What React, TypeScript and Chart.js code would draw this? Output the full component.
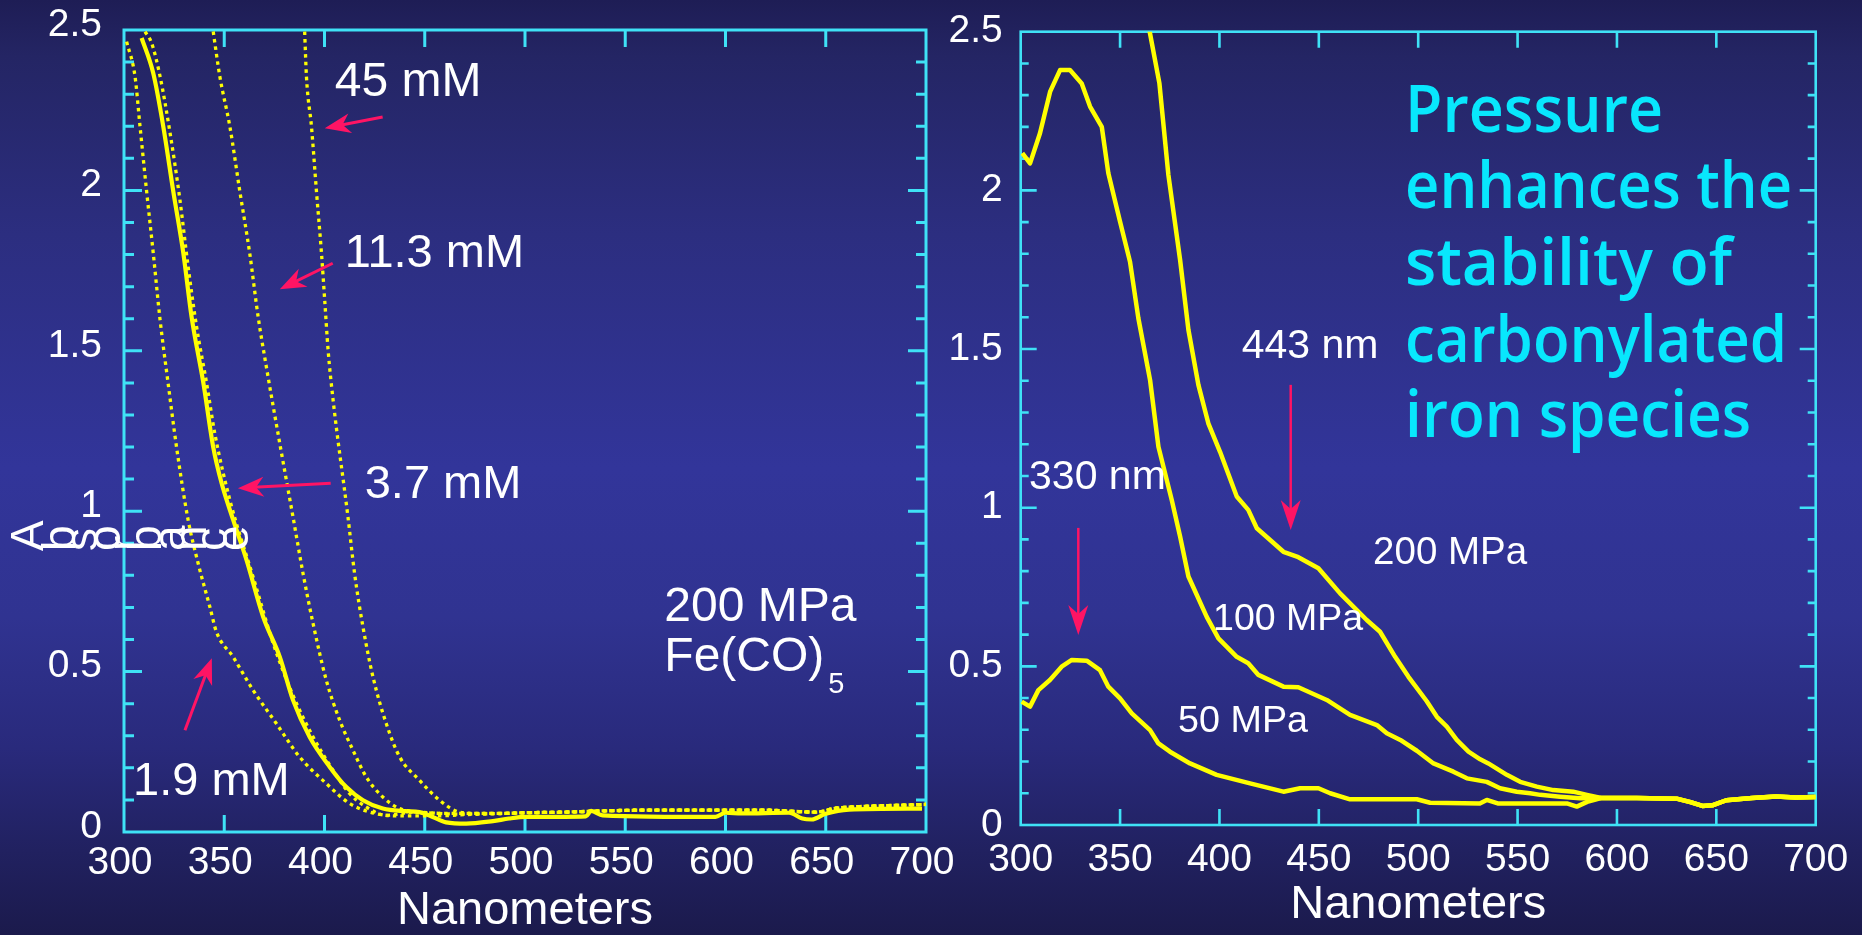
import React, { useEffect, useRef } from 'react';
import Chart from 'chart.js/auto';

const FONT = '"Liberation Sans", Arial, Helvetica, sans-serif';
const CYAN = '#3fe2f6';
const YELLOW = '#ffff00';
const PINK = '#ff1464';
const TEXT_CYAN = '#08e7fd';

// ---------------- axes ----------------
const xTicks = [300, 350, 400, 450, 500, 550, 600, 650, 700];
const yTicks = [0, 0.5, 1, 1.5, 2, 2.5];
const yMinorTicks = [0.1, 0.2, 0.3, 0.4, 0.6, 0.7, 0.8, 0.9, 1.1, 1.2, 1.3, 1.4, 1.6, 1.7, 1.8, 1.9, 2.1, 2.2, 2.3, 2.4];
const xTitle = 'Nanometers';
const yTitle = 'Absorbance';

// ---------------- left panel: 200 MPa, Fe(CO)5, [nm, absorbance] ----------------
const solidTrace = [
  [308.8, 2.475], [314.6, 2.365], [319.6, 2.199], [324.6, 1.996], [329.6, 1.804], [333.7, 1.606],
  [339.6, 1.399], [344.5, 1.2], [348.7, 1.087], [354.5, 0.972], [361.1, 0.848], [369.4, 0.671],
  [377.7, 0.546], [384.3, 0.411], [392.6, 0.296], [402.6, 0.203], [410.9, 0.14], [419.2, 0.099],
  [429.1, 0.073], [440, 0.065], [447.4, 0.062], [454, 0.047], [460.7, 0.03], [470.7, 0.026],
  [484, 0.034], [492, 0.042], [500.5, 0.047], [530.4, 0.049], [533, 0.066], [538.7, 0.052],
  [595, 0.047], [600, 0.06], [608, 0.058], [631.7, 0.06], [638.3, 0.042], [643, 0.039],
  [650, 0.057], [661.6, 0.07], [698, 0.073],
];
const conc1_9 = [
  [301.3, 2.464], [305.5, 2.355], [308, 2.199], [311.3, 1.996], [314.6, 1.804], [318, 1.596],
  [322, 1.399], [326.2, 1.2], [332, 0.972], [337, 0.837], [342.8, 0.702], [346.1, 0.624],
  [354.4, 0.546], [364.4, 0.442], [376, 0.338], [387.6, 0.234], [400.9, 0.151], [412.5, 0.089],
  [425.8, 0.057], [440, 0.05], [455, 0.05], [470, 0.054],
];
const conc3_7 = [
  [310.5, 2.495], [313.8, 2.459], [318, 2.355], [323, 2.178], [327.9, 1.97], [332, 1.762],
  [336.2, 1.575], [341.2, 1.399], [345.3, 1.242], [352.8, 1.035], [364.4, 0.795], [374.4, 0.588],
  [384, 0.43], [394, 0.3], [404.3, 0.192], [412.5, 0.12], [420.8, 0.078], [430.8, 0.052],
  [445, 0.062], [465, 0.056],
];
const conc11_3 = [
  [344.5, 2.495], [347.8, 2.355], [352.8, 2.199], [357.8, 1.996], [362.7, 1.804], [366.9, 1.606],
  [371, 1.45], [377.7, 1.211], [384.3, 0.982], [389.3, 0.806], [394.3, 0.65], [400.9, 0.473],
  [407.6, 0.348], [414.2, 0.255], [420.8, 0.172], [429.1, 0.109], [437.5, 0.073], [447, 0.062],
  [465, 0.058],
];
const conc45 = [
  [390.1, 2.495], [391, 2.355], [393.5, 2.199], [396, 1.996], [398.5, 1.804], [400.1, 1.658],
  [401.8, 1.502], [404.3, 1.346], [411.7, 0.982], [415, 0.806], [419.2, 0.639], [424.2, 0.483],
  [430.8, 0.338], [437.5, 0.234], [447.4, 0.161], [457.4, 0.099], [467.3, 0.062], [477, 0.058],
];
const dottedTail = [
  [490, 0.058], [500, 0.06], [520, 0.062], [540, 0.066], [560, 0.068], [580, 0.068], [600, 0.068],
  [620, 0.068], [635, 0.064], [645, 0.062], [655, 0.074], [670, 0.08], [685, 0.083], [700, 0.086],
];

// ---------------- right panel: pressure series, [nm, absorbance] ----------------
const mpa50 = [
  [300.5, 0.389], [304.7, 0.373], [308.9, 0.425], [314.7, 0.457], [320.6, 0.499], [325.7, 0.52],
  [333.2, 0.518], [339.9, 0.488], [344.1, 0.436], [350, 0.399], [355.9, 0.352], [365.1, 0.299],
  [369.3, 0.257], [375.1, 0.231], [385.2, 0.194], [398.6, 0.158], [415.4, 0.131], [432.2, 0.105],
  [440.6, 0.116], [449.8, 0.116], [455.7, 0.1], [465.7, 0.081], [499.3, 0.081], [506, 0.07],
  [531, 0.068], [534.5, 0.079], [540, 0.068], [574.8, 0.068], [579.8, 0.058], [585, 0.073],
];
const mpa100 = [
  [300.8, 2.117], [304.7, 2.085], [309.7, 2.18], [314.8, 2.311], [319.8, 2.379], [324.8, 2.379],
  [330.7, 2.337], [334.9, 2.264], [340.8, 2.2], [344.1, 2.054], [350, 1.901], [355, 1.775],
  [359.2, 1.597], [365.1, 1.402], [369.3, 1.192], [376, 1.024], [380.2, 0.909], [384.4, 0.783],
  [393.6, 0.656], [399.5, 0.588], [408.7, 0.53], [414.5, 0.51], [419.6, 0.473], [432.2, 0.436],
  [439.7, 0.434], [454, 0.394], [465.7, 0.347], [479.2, 0.315], [484.2, 0.289], [491, 0.268],
  [499.3, 0.234], [507.7, 0.194], [517.7, 0.168], [524.5, 0.147], [534.5, 0.136], [541.2, 0.116],
  [549.6, 0.105], [556.3, 0.1], [561.4, 0.095], [571.4, 0.089], [581.4, 0.084],
];
const mpa200 = [
  [364.3, 2.52], [369.8, 2.337], [374.3, 2.049], [380.2, 1.781], [384.4, 1.56], [389.4, 1.387],
  [394.4, 1.266], [400.3, 1.176], [408.7, 1.035], [414.5, 0.993], [418.8, 0.935], [432.2, 0.861],
  [439.7, 0.844], [449.8, 0.809], [460.7, 0.73], [474.1, 0.646], [480.8, 0.609], [488.4, 0.53],
  [495.1, 0.467], [504.3, 0.39], [509.4, 0.341], [514.4, 0.31], [519.4, 0.268], [525.3, 0.231],
  [531.2, 0.207], [535.3, 0.194], [544.6, 0.158], [551.3, 0.136], [559.7, 0.121], [568, 0.11],
  [578, 0.105], [584.9, 0.095],
];
const pressureTail = [
  [592, 0.085], [610, 0.085], [630, 0.083], [637, 0.072], [643, 0.06], [648, 0.062], [655, 0.078],
  [668, 0.085], [680, 0.09], [690, 0.087], [700, 0.088],
];

// ---------------- annotations (data coordinates) ----------------
const leftLabels = [
  { text: '45 mM', x: 405.1, y: 2.294, size: 48 },
  { text: '11.3 mM', x: 410.1, y: 1.761, size: 47 },
  { text: '3.7 mM', x: 420.05, y: 1.0406, size: 47 },
  { text: '1.9 mM', x: 304.5, y: 0.1144, size: 47 },
  { text: '200 MPa', x: 569.5, y: 0.658, size: 48 },
  { text: 'Fe(CO)', x: 569.5, y: 0.502, size: 48, sub: '5' },
];
const leftArrows = [
  { x1: 429.0, y1: 2.229, x2: 400.1, y2: 2.194 },
  { x1: 404.1, y1: 1.773, x2: 377.7, y2: 1.692 },
  { x1: 403.1, y1: 1.0874, x2: 356.8, y2: 1.0718 },
  { x1: 330.4, y1: 0.3171, x2: 343.8, y2: 0.5417 },
];
const rightLabels = [
  { text: '443 nm', x: 411.2, y: 1.4723, size: 41 },
  { text: '330 nm', x: 304.2, y: 1.0593, size: 41 },
  { text: '200 MPa', x: 477.3, y: 0.8219, size: 38.5 },
  { text: '100 MPa', x: 396.8, y: 0.6148, size: 37.5 },
  { text: '50 MPa', x: 379.2, y: 0.2941, size: 37.7 },
];
const rightArrows = [
  { x1: 435.85, y1: 1.3871, x2: 435.85, y2: 0.93 },
  { x1: 328.98, y1: 0.9363, x2: 328.98, y2: 0.599 },
];
const messageLines = ['Pressure', 'enhances the', 'stability of', 'carbonylated', 'iron species'];
const messageY = [2.1847, 1.9452, 1.7024, 1.4596, 1.2232];
const messageX = 493.4;
const messageWidths = [258, 387, 327, 382, 346];

const glitchX = [43, 75, 97, 120, 140, 161, 185, 206, 227, 248];

const toXY = (pts: number[][]) => pts.map(([x, y]) => ({ x, y }));

function drawArrow(ctx: CanvasRenderingContext2D, x1: number, y1: number, x2: number, y2: number, headLen: number, headW: number, lw: number) {
  const ang = Math.atan2(y2 - y1, x2 - x1);
  const ux = Math.cos(ang), uy = Math.sin(ang);
  const nx = -uy, ny = ux;
  ctx.save();
  ctx.strokeStyle = PINK;
  ctx.fillStyle = PINK;
  ctx.lineWidth = lw;
  ctx.lineCap = 'butt';
  const sx = x2 - ux * headLen * 0.6, sy = y2 - uy * headLen * 0.6;
  ctx.beginPath();
  ctx.moveTo(x1, y1);
  ctx.lineTo(sx, sy);
  ctx.stroke();
  const bx = x2 - ux * headLen, by = y2 - uy * headLen;
  const notchX = x2 - ux * headLen * 0.7, notchY = y2 - uy * headLen * 0.7;
  ctx.beginPath();
  ctx.moveTo(x2, y2);
  ctx.lineTo(bx + nx * headW / 2, by + ny * headW / 2);
  ctx.lineTo(notchX, notchY);
  ctx.lineTo(bx - nx * headW / 2, by - ny * headW / 2);
  ctx.closePath();
  ctx.fill();
  ctx.restore();
}

function framePlugin(o: { lw: number; major: number; minor: number; xLen: number }) {
  return {
    id: 'frameTicks',
    beforeDatasetsDraw(chart: any) {
      const { ctx, chartArea: a, scales } = chart;
      const xs = scales.x, ys = scales.y;
      ctx.save();
      ctx.strokeStyle = CYAN;
      ctx.lineWidth = o.lw;
      ctx.lineCap = 'butt';
      ctx.beginPath();
      const ticks: [number, number][] = [];
      yTicks.forEach((v) => ticks.push([v, o.major]));
      yMinorTicks.forEach((v) => ticks.push([v, o.minor]));
      ticks.forEach(([v, len]) => {
        if (v <= 0 || v >= 2.5) return;
        const py = ys.getPixelForValue(v);
        ctx.moveTo(a.left, py);
        ctx.lineTo(a.left + len, py);
        ctx.moveTo(a.right, py);
        ctx.lineTo(a.right - len, py);
      });
      xTicks.forEach((v) => {
        if (v <= 300 || v >= 700) return;
        const px = xs.getPixelForValue(v);
        ctx.moveTo(px, a.bottom);
        ctx.lineTo(px, a.bottom - o.xLen);
        ctx.moveTo(px, a.top);
        ctx.lineTo(px, a.top + o.xLen);
      });
      ctx.stroke();
      ctx.strokeRect(a.left, a.top, a.right - a.left, a.bottom - a.top);
      ctx.restore();
    },
  };
}

function annotationPlugin(cfg: { labels: any[]; arrows: any[]; head: [number, number, number]; extra?: (chart: any) => void }) {
  return {
    id: 'annotations',
    afterDraw(chart: any) {
      const { ctx, scales } = chart;
      const xs = scales.x, ys = scales.y;
      ctx.save();
      ctx.fillStyle = '#ffffff';
      ctx.textAlign = 'left';
      ctx.textBaseline = 'alphabetic';
      cfg.labels.forEach((l) => {
        const px = xs.getPixelForValue(l.x);
        const py = ys.getPixelForValue(l.y);
        ctx.font = `${l.size}px ${FONT}`;
        ctx.fillText(l.text, px, py);
        if (l.sub) {
          const w = ctx.measureText(l.text).width;
          ctx.font = `${Math.round(l.size * 0.6)}px ${FONT}`;
          ctx.fillText(l.sub, px + w + 4, py + 22);
        }
      });
      ctx.restore();
      cfg.arrows.forEach((a) => {
        drawArrow(ctx, xs.getPixelForValue(a.x1), ys.getPixelForValue(a.y1), xs.getPixelForValue(a.x2), ys.getPixelForValue(a.y2), cfg.head[0], cfg.head[1], cfg.head[2]);
      });
      if (cfg.extra) cfg.extra(chart);
    },
  };
}

function drawGlitchTitle(chart: any) {
  const { ctx } = chart;
  ctx.save();
  ctx.fillStyle = '#ffffff';
  ctx.font = `46px ${FONT}`;
  ctx.textBaseline = 'alphabetic';
  ctx.textAlign = 'left';
  yTitle.split('').forEach((ch, i) => {
    ctx.save();
    ctx.translate(glitchX[i], 551);
    ctx.rotate(-Math.PI / 2);
    ctx.fillText(ch, 0, 0);
    ctx.restore();
  });
  ctx.restore();
}

function drawMessage(chart: any) {
  const { ctx, scales } = chart;
  ctx.save();
  ctx.fillStyle = TEXT_CYAN;
  ctx.font = `600 66px "Comic Sans MS", "Open Sans", sans-serif`;
  ctx.textBaseline = 'alphabetic';
  ctx.textAlign = 'left';
  messageLines.forEach((line, i) => {
    const px = scales.x.getPixelForValue(messageX);
    const py = scales.y.getPixelForValue(messageY[i]);
    const w = ctx.measureText(line).width;
    ctx.save();
    ctx.translate(px, py);
    ctx.scale(messageWidths[i] / w, 1);
    ctx.fillText(line, 0, 0);
    ctx.restore();
  });
  ctx.restore();
}

function makeConfig(p: {
  datasets: any[];
  padding: any;
  yWidth: number;
  xHeight: number;
  xLabelPad: number;
  xLabelOffset: number;
  yLabelPad: number;
  yLabelOffset: number;
  titlePadBottom: number;
  plugins: any[];
}) {
  return {
    type: 'line' as const,
    data: { datasets: p.datasets },
    options: {
      animation: false,
      responsive: false,
      events: [],
      layout: { padding: p.padding },
      plugins: { legend: { display: false }, tooltip: { enabled: false } },
      elements: { point: { radius: 0 } },
      scales: {
        x: {
          type: 'linear',
          position: 'bottom',
          min: 300,
          max: 700,
          afterBuildTicks: (s: any) => {
            s.ticks = xTicks.map((v) => ({ value: v }));
          },
          afterFit: (s: any) => {
            s.height = p.xHeight;
            s.paddingLeft = 0;
            s.paddingRight = 0;
          },
          grid: { display: false, drawTicks: false },
          border: { display: false },
          ticks: {
            color: '#ffffff',
            font: { family: FONT, size: 39 },
            padding: p.xLabelPad,
            labelOffset: p.xLabelOffset,
            maxRotation: 0,
            autoSkip: false,
            callback: (v: any) => String(v),
          },
          title: {
            display: true,
            text: xTitle,
            color: '#ffffff',
            font: { family: FONT, size: 47, lineHeight: 1 },
            padding: { top: 0, bottom: p.titlePadBottom },
          },
        },
        y: {
          type: 'linear',
          position: 'left',
          min: 0,
          max: 2.5,
          afterBuildTicks: (s: any) => {
            s.ticks = yTicks.map((v) => ({ value: v }));
          },
          afterFit: (s: any) => {
            s.width = p.yWidth;
            s.paddingTop = 0;
            s.paddingBottom = 0;
          },
          grid: { display: false, drawTicks: false },
          border: { display: false },
          ticks: {
            color: '#ffffff',
            font: { family: FONT, size: 39 },
            padding: p.yLabelPad,
            labelOffset: p.yLabelOffset,
            autoSkip: false,
            callback: (v: any) => String(Number(v)),
          },
        },
      },
    },
    plugins: p.plugins,
  };
}

const dotted = (pts: number[][], label: string) => ({
  label,
  data: toXY(pts),
  borderColor: YELLOW,
  borderWidth: 3.3,
  borderDash: [3.5, 4],
  borderCapStyle: 'butt',
  cubicInterpolationMode: 'monotone',
  fill: false,
});

const thick = (pts: number[][], label: string, width: number, smooth: boolean) => ({
  label,
  data: toXY(pts),
  borderColor: YELLOW,
  borderWidth: width,
  borderJoinStyle: 'round',
  borderCapStyle: 'butt',
  cubicInterpolationMode: smooth ? 'monotone' : 'default',
  tension: 0,
  fill: false,
});

export default function App() {
  const leftRef = useRef<HTMLCanvasElement>(null);
  const rightRef = useRef<HTMLCanvasElement>(null);

  useEffect(() => {
    document.body.style.margin = '0';
    const left = new Chart(
      leftRef.current as HTMLCanvasElement,
      makeConfig({
        datasets: [
          dotted(conc1_9.concat(dottedTail), '1.9 mM'),
          dotted(conc3_7.concat(dottedTail), '3.7 mM'),
          dotted(conc11_3.concat(dottedTail), '11.3 mM'),
          dotted(conc45.concat(dottedTail), '45 mM'),
          thick(solidTrace, '200 MPa', 4.2, true),
        ],
        padding: { left: 0, top: 30, right: 936, bottom: 0 },
        yWidth: 124,
        xHeight: 103,
        xLabelPad: 8,
        xLabelOffset: -4,
        yLabelPad: 22,
        yLabelOffset: -5,
        titlePadBottom: 0,
        plugins: [
          framePlugin({ lw: 3, major: 18, minor: 10, xLen: 17 }),
          annotationPlugin({ labels: leftLabels, arrows: leftArrows, head: [26, 20, 3], extra: drawGlitchTitle }),
        ],
      }) as any
    );
    const right = new Chart(
      rightRef.current as HTMLCanvasElement,
      makeConfig({
        datasets: [
          thick(mpa50.concat(pressureTail), '50 MPa', 4.5, false),
          thick(mpa100.concat(pressureTail), '100 MPa', 4.5, false),
          thick(mpa200.concat(pressureTail), '200 MPa', 4.5, false),
        ],
        padding: { left: 920.7, top: 31.7, right: 46.3, bottom: 0 },
        yWidth: 100,
        xHeight: 110,
        xLabelPad: 12,
        xLabelOffset: 0,
        yLabelPad: 18,
        yLabelOffset: 0,
        titlePadBottom: 6.4,
        plugins: [
          framePlugin({ lw: 2.6, major: 16, minor: 8, xLen: 16 }),
          annotationPlugin({ labels: rightLabels, arrows: rightArrows, head: [30, 20, 2.5], extra: drawMessage }),
        ],
      }) as any
    );
    return () => {
      left.destroy();
      right.destroy();
    };
  }, []);

  return (
    <div
      style={{
        position: 'fixed',
        left: 0,
        top: 0,
        width: 1862,
        height: 935,
        overflow: 'hidden',
        background:
          'linear-gradient(to bottom, #1e1d55 0%, #242564 6%, #2c2e80 25%, #32359a 50%, #303391 66%, #292a7c 80%, #212160 91%, #1b1a4c 100%)',
      }}
    >
      <canvas ref={leftRef} width={1862} height={935} style={{ position: 'absolute', left: 0, top: 0 }} />
      <canvas ref={rightRef} width={1862} height={935} style={{ position: 'absolute', left: 0, top: 0 }} />
    </div>
  );
}
